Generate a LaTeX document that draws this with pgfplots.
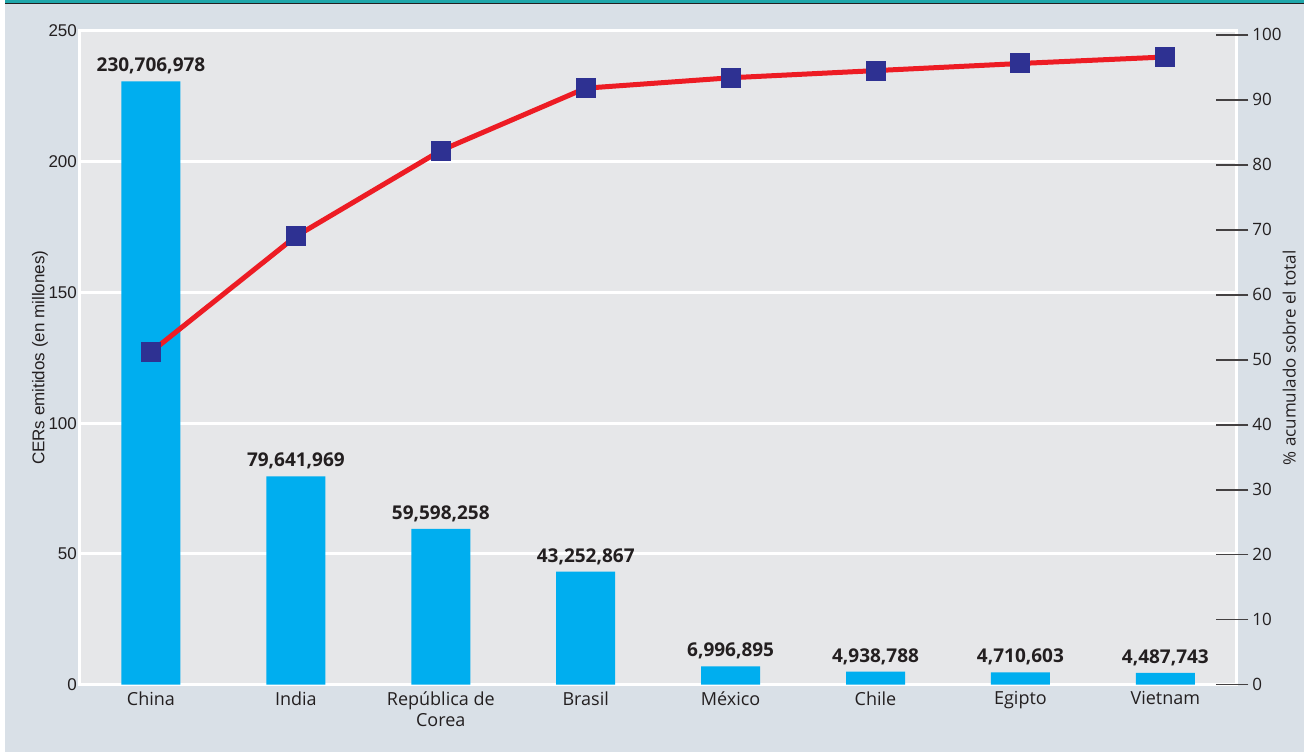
\documentclass[border=0pt]{standalone}
\usepackage{fontspec}
\setmainfont{Open Sans}
\newfontfamily\arialfont{Liberation Sans}
\usepackage{pgfplots}
\usepackage{pgfplotstable}
\pgfplotsset{compat=1.18}
\definecolor{outerbg}{HTML}{D9E0E7}
\definecolor{plotbg}{HTML}{E6E7E9}
\definecolor{barblue}{HTML}{00AEEF}
\definecolor{linered}{HTML}{ED1C24}
\definecolor{markblue}{HTML}{2E3192}
\definecolor{topteal}{HTML}{1FA7AB}
\definecolor{txt}{HTML}{231F20}

\pgfplotstableread{
x y label
0 230.706978 230,706,978
1 79.641969 79,641,969
2 59.598258 59,598,258
3 43.252867 43,252,867
4 6.996895 6,996,895
5 4.938788 4,938,788
6 4.710603 4,710,603
7 4.487743 4,487,743
}\bars

\pgfplotstableread{
x y
0 51.2
1 69.0
2 82.2
3 91.8
4 93.4
5 94.5
6 95.6
7 96.6
}\cumul

\begin{document}
\begin{tikzpicture}
\fill[white] (0,0) rectangle (652.5pt,376pt);
\fill[outerbg] (2.5pt,0) rectangle (652.5pt,374pt);
\fill[topteal] (2.5pt,374.6pt) rectangle (652.5pt,376pt);
\draw[txt, line width=0.7pt] (2.5pt,374.2pt) -- (652.5pt,374.2pt);
\begin{axis}[
  at={(40pt,33.5pt)}, anchor=south west,
  scale only axis, width=578.5pt, height=327pt,
  xmin=-0.49, xmax=7.49, ymin=0, ymax=250,
  axis background/.style={fill=plotbg},
  axis line style={white, line width=1.5pt},
  ymajorgrids, grid style={white, line width=1.5pt},
  ytick={0,50,...,250},
  xtick={0,...,7},
  xticklabels={China, India, {República de\\Corea}, Brasil, México, Chile, Egipto, Vietnam},
  xticklabel style={align=center, font=\fontsize{9}{10.5}\selectfont, text=txt},
  yticklabel style={font=\arialfont\fontsize{8.5}{10}\selectfont, text=txt, xshift=2pt},
  /pgf/number format/assume math mode=true,
  major tick length=0pt,
  tick style={draw=none},
  ylabel={CERs emitidos (en millones)},
  ylabel style={at={(axis description cs:-0.0346,0.5)}, anchor=center, font=\arialfont\fontsize{8.5}{10}\selectfont, text=txt},
]
\addplot[ybar, bar width=29.5pt, fill=barblue, draw=none,
  nodes near coords, point meta=explicit symbolic,
  every node near coord/.style={font=\bfseries\fontsize{9.5}{10}\selectfont, text=txt, anchor=south, yshift=0pt}]
  table[x=x, y=y, meta=label]{\bars};
\end{axis}
\begin{axis}[
  at={(40pt,33.5pt)}, anchor=south west,
  scale only axis, width=578.5pt, height=327pt,
  xmin=-0.49, xmax=7.49, ymin=0, ymax=100.6,
  axis y line*=right, axis x line=none,
  axis line style={draw=none},
  ytick={0,10,...,100},
  tick align=center, major tick length=16pt,
  ytick style={txt!85, line width=0.8pt, xshift=-2pt},
  yticklabel style={font=\fontsize{8.5}{10}\selectfont, text=txt, xshift=-3.5pt},
  /pgf/number format/assume math mode=true,
  ylabel={\% acumulado sobre el total},
  ylabel style={at={(axis description cs:1.0458,0.5)}, anchor=center, rotate=0, font=\fontsize{8.5}{10}\selectfont, text=txt},
]
\addplot[linered, line width=2.5pt, mark=square*, mark size=4.75pt,
  mark options={fill=markblue, draw=markblue, line width=0pt}]
  table[x=x, y=y]{\cumul};
\end{axis}
\end{tikzpicture}
\end{document}
